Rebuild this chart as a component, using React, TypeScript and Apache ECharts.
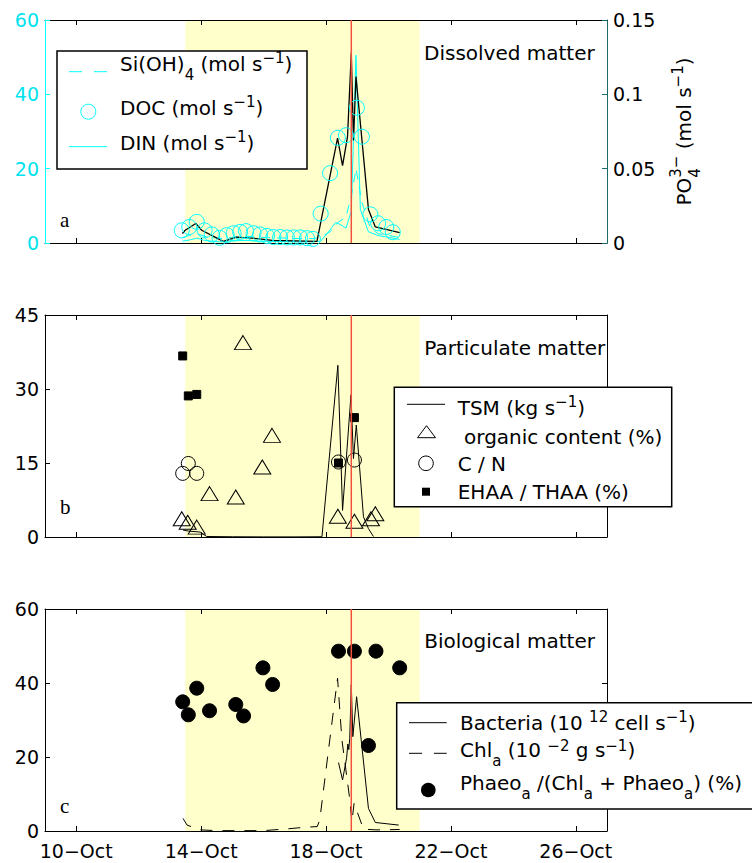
import React, { useEffect, useRef } from "react";
import * as echarts from "echarts";

// ---------- axes ----------
const X_MIN = 9;
const X_MAX = 27;
const X_TICKS = [10, 14, 18, 22, 26];
const MONTH = "Oct";
const BAND = [13.49, 21.0];
const EVENT_DAY = 18.81;

// ---------- panel a : dissolved matter ----------
const DOC_T = [13.38, 13.62, 13.86, 14.11, 14.34, 14.59, 14.82, 15.04, 15.25, 15.44, 15.68, 15.89, 16.11, 16.32, 16.53, 16.75, 16.96, 17.17, 17.39, 17.58, 17.83, 18.13, 18.38, 18.64, 18.99, 19.15, 19.42, 19.67, 19.93, 20.14];
const DOC_V = [3.4, 4.3, 5.7, 3.4, 2.3, 1.4, 2.1, 2.6, 3.0, 3.2, 2.6, 2.3, 1.9, 1.6, 1.6, 1.5, 1.5, 1.5, 1.3, 1.1, 7.9, 18.8, 28.3, 29.0, 36.4, 28.6, 7.7, 5.3, 4.3, 2.9];

const PO4_T = [13.4, 13.49, 13.83, 14.02, 14.71, 15.14, 15.79, 16.27, 17.71, 18.37, 18.53, 18.69, 18.81, 18.88, 18.96, 19.36, 19.58, 20.36];
const PO4_V = [0.0064, 0.0086, 0.0131, 0.0086, 0.0011, 0.004, 0.003, 0.0018, 0.0011, 0.0705, 0.052, 0.0716, 0.128, 0.069, 0.112, 0.0226, 0.0108, 0.007];

const DIN_T = [13.4, 13.62, 13.86, 14.11, 14.59, 15.04, 15.44, 15.89, 16.32, 16.75, 17.17, 17.58, 17.83, 18.13, 18.3, 18.45, 18.64, 18.81, 18.96, 19.1, 19.36, 19.67, 20.36];
const DIN_V = [0.5, 0.8, 1.3, 0.7, 0.3, 0.6, 0.7, 0.5, 0.4, 0.4, 0.3, 0.3, 0.5, 3.5, 5.5, 5.0, 4.0, 8.5, 50.5, 9.0, 3.0, 2.0, 1.0];

const SI_T = [13.4, 13.62, 13.86, 14.11, 14.59, 15.04, 15.44, 15.89, 16.32, 16.75, 17.17, 17.58, 17.83, 18.13, 18.38, 18.64, 18.81, 18.96, 19.15, 19.42, 19.67, 20.36];
const SI_V = [1.5, 2.0, 2.5, 1.8, 1.2, 1.6, 1.8, 1.5, 1.4, 1.3, 1.2, 1.2, 1.5, 3.0, 5.5, 7.0, 12.5, 20.0, 11.0, 4.0, 2.5, 1.5];

// ---------- panel b : particulate matter ----------
const TSM_T = [13.42, 13.6, 13.97, 14.18, 15.0, 16.0, 17.0, 17.87, 18.38, 18.53, 18.8, 18.88, 18.97, 19.2, 19.36, 19.52];
const TSM_V = [1.4, 1.2, 1.0, 0.1, 0.05, 0.02, 0.02, 0.05, 34.8, 5.4, 28.8, 15.9, 22.7, 4.1, 1.7, 0.1];

const ORG_T = [13.38, 13.57, 13.86, 14.27, 15.11, 15.34, 15.96, 16.27, 18.38, 18.91, 19.44, 19.58];
const ORG_V = [3.7, 3.0, 2.0, 8.8, 8.1, 39.4, 14.2, 20.6, 4.2, 3.2, 3.7, 4.7];

const CN_T = [13.41, 13.59, 13.86, 18.4, 18.91];
const CN_V = [12.9, 14.9, 12.9, 15.2, 15.6];

const EH_T = [13.41, 13.59, 13.86, 18.4, 18.91];
const EH_V = [36.7, 28.6, 28.9, 15.0, 24.2];

// ---------- panel c : biological matter ----------
const PH_T = [13.41, 13.59, 13.86, 14.27, 15.11, 15.36, 15.98, 16.29, 18.4, 18.91, 19.36, 19.6, 20.36];
const PH_V = [34.9, 31.4, 38.6, 32.5, 34.2, 31.1, 44.1, 39.6, 48.6, 48.6, 23.1, 48.6, 44.1];

const BAC_T = [18.4, 18.53, 18.66, 18.7, 18.73, 18.76, 18.81, 18.86, 18.98, 19.36, 19.58, 20.33];
const BAC_V = [18.5, 13.8, 19.7, 23.5, 22.0, 25.0, 39.5, 25.5, 36.3, 6.1, 2.3, 1.6];

const CHL_T = [13.42, 13.55, 13.97, 14.5, 15.2, 16.0, 16.8, 17.3, 17.72, 17.8, 18.08, 18.37, 18.51, 18.75, 18.83, 18.9, 19.2, 19.6, 20.36];
const CHL_V = [3.4, 1.6, 0.3, 0.1, 0.1, 0.1, 0.6, 1.0, 1.2, 3.0, 21.9, 41.3, 24.6, 9.3, 2.5, 7.5, 0.5, 0.3, 0.4];

// ---------- styles ----------
const FONT = "DejaVu Sans";
const CYAN = "#00ffff";
const CYAN_LABEL = "#00e3ee";
const TEAL = "#1a6a6a";
const RED = "#f0503c";
const YELLOW = "#ffffcc";
const MAIN = 20;
const SCRIPT = 15;
const SUP_DY = -6;
const SUB_DY = 11;

const zip = (t: number[], v: number[]) => t.map((d, i) => [d, v[i]]);

let mctx: CanvasRenderingContext2D | null = null;
function tw(text: string, size: number): number {
  if (!mctx) mctx = document.createElement("canvas").getContext("2d");
  if (!mctx) return text.length * size * 0.6;
  mctx.font = `${size}px "${FONT}"`;
  return mctx.measureText(text).width;
}

function txt(x: number, y: number, text: string, size: number, extra: any = {}) {
  return {
    type: "text",
    x,
    y,
    z: 100,
    silent: true,
    style: {
      text,
      fontSize: size,
      fontFamily: FONT,
      fill: "#000",
      align: "left",
      verticalAlign: "middle",
      textAlign: "left",
      textVerticalAlign: "middle",
      ...extra,
    },
  };
}

type Tok = [string, string, string?];
function layout(tokens: Tok[], x0: number, y0: number, supDy = SUP_DY) {
  const els: any[] = [];
  let x = x0;
  for (const [k, a, b] of tokens) {
    if (k === "n") {
      els.push(txt(x, y0, a, MAIN));
      x += tw(a, MAIN);
    } else if (k === "sup") {
      els.push(txt(x, y0 + supDy, a, SCRIPT));
      x += tw(a, SCRIPT);
    } else if (k === "sub") {
      els.push(txt(x, y0 + SUB_DY, a, SCRIPT));
      x += tw(a, SCRIPT);
    } else if (k === "stack") {
      els.push(txt(x, y0 + SUB_DY, a, SCRIPT));
      els.push(txt(x, y0 + supDy - 2, b as string, SCRIPT));
      x += Math.max(tw(a, SCRIPT), tw(b as string, SCRIPT));
    }
  }
  return { els, width: x - x0 };
}

const LBL_SI: Tok[] = [["n", "Si(OH)"], ["sub", "4"], ["n", " (mol s"], ["sup", "\u22121"], ["n", ")"]];
const LBL_DOC: Tok[] = [["n", "DOC (mol s"], ["sup", "\u22121"], ["n", ")"]];
const LBL_DIN: Tok[] = [["n", "DIN (mol s"], ["sup", "\u22121"], ["n", ")"]];
const LBL_PO4: Tok[] = [["n", "PO"], ["stack", "4", "3\u2212"], ["n", " (mol s"], ["sup", "\u22121"], ["n", ")"]];
const LBL_TSM: Tok[] = [["n", "TSM (kg s"], ["sup", "\u22121"], ["n", ")"]];
const LBL_ORG: Tok[] = [["n", " organic content (%)"]];
const LBL_CN: Tok[] = [["n", "C / N"]];
const LBL_EH: Tok[] = [["n", "EHAA / THAA (%)"]];
const LBL_BAC: Tok[] = [["n", "Bacteria (10 "], ["sup", "12"], ["n", " cell s"], ["sup", "\u22121"], ["n", ")"]];
const LBL_CHL: Tok[] = [["n", "Chl"], ["sub", "a"], ["n", " (10 "], ["sup", "\u22122"], ["n", " g s"], ["sup", "\u22121"], ["n", ")"]];
const LBL_PHA: Tok[] = [["n", "Phaeo"], ["sub", "a"], ["n", " /(Chl"], ["sub", "a"], ["n", " + Phaeo"], ["sub", "a"], ["n", ") (%)"]];

function xAx(gi: number, pos: string, labels: boolean) {
  return {
    type: "value",
    gridIndex: gi,
    position: pos,
    min: X_MIN,
    max: X_MAX,
    z: 3,
    axisLine: { show: true, onZero: false, lineStyle: { color: "#000", width: 1 } },
    axisTick: { show: true, inside: true, length: 5, customValues: X_TICKS, lineStyle: { color: "#000" } },
    axisLabel: {
      show: labels,
      customValues: X_TICKS,
      formatter: (v: number) => `${v}\u2212${MONTH}`,
      margin: 10,
      fontSize: 19,
      fontFamily: FONT,
      color: "#000",
    },
    splitLine: { show: false },
  };
}

function yAx(gi: number, pos: string, min: number, max: number, interval: number, labels: boolean, labelColor = "#000", lineColor = "#000") {
  return {
    type: "value",
    gridIndex: gi,
    position: pos,
    min,
    max,
    interval,
    z: 3,
    axisLine: { show: true, onZero: false, lineStyle: { color: lineColor, width: 1 } },
    axisTick: { show: true, inside: true, length: 5, lineStyle: { color: lineColor } },
    axisLabel: { show: labels, color: labelColor, fontSize: 19, fontFamily: FONT, margin: 6 },
    splitLine: { show: false },
  };
}

function bandSeries(gi: number) {
  return {
    type: "custom",
    xAxisIndex: 2 * gi,
    yAxisIndex: 2 * gi,
    z: 1,
    silent: true,
    data: [[BAND[0], BAND[1]]],
    renderItem: (params: any, api: any) => {
      const cs = params.coordSys;
      const x0 = api.coord([api.value(0), 0])[0];
      const x1 = api.coord([api.value(1), 0])[0];
      return { type: "rect", shape: { x: x0, y: cs.y, width: x1 - x0, height: cs.height }, style: { fill: YELLOW } };
    },
  };
}

function eventSeries(gi: number) {
  return {
    type: "custom",
    xAxisIndex: 2 * gi,
    yAxisIndex: 2 * gi,
    z: 10,
    silent: true,
    data: [[EVENT_DAY, 0]],
    renderItem: (params: any, api: any) => {
      const cs = params.coordSys;
      const x = api.coord([api.value(0), 0])[0];
      return { type: "line", shape: { x1: x, y1: cs.y, x2: x, y2: cs.y + cs.height }, style: { stroke: RED, lineWidth: 1.5 } };
    },
  };
}

function lineSeries(xi: number, yi: number, data: number[][], color: string, width: number, dash?: number[]) {
  return {
    type: "line",
    xAxisIndex: xi,
    yAxisIndex: yi,
    data,
    z: 4,
    showSymbol: false,
    symbol: "none",
    silent: true,
    lineStyle: { color, width, type: dash ? dash : "solid", opacity: 1 },
  };
}

function scatterSeries(xi: number, yi: number, data: number[][], symbol: string, size: any, fill: string, stroke: string) {
  return {
    type: "scatter",
    xAxisIndex: xi,
    yAxisIndex: yi,
    data,
    z: 5,
    symbol,
    symbolSize: size,
    silent: true,
    itemStyle: { color: fill, borderColor: stroke, borderWidth: 1, opacity: 1 },
  };
}

function buildGraphics() {
  const g: any[] = [];
  const box = (x: number, y: number, w: number, h: number) => ({
    type: "rect",
    z: 99,
    silent: true,
    shape: { x, y, width: w, height: h },
    style: { fill: "#fff", stroke: "#000", lineWidth: 1.5 },
  });
  const seg = (x1: number, x2: number, y: number, color: string, dash?: number[]) => ({
    type: "line",
    z: 100,
    silent: true,
    shape: { x1, y1: y, x2, y2: y },
    style: { stroke: color, lineWidth: 1, lineDash: dash },
  });

  // legend a
  g.push(box(57, 51, 250, 118));
  g.push(seg(69, 107, 71.7, CYAN, [13, 12]));
  g.push({ type: "circle", z: 100, silent: true, shape: { cx: 88.3, cy: 111.7, r: 7.5 }, style: { fill: "none", stroke: CYAN, lineWidth: 1 } });
  g.push(seg(69, 107, 146.7, CYAN));
  g.push(...layout(LBL_SI, 120, 64.3).els);
  g.push(...layout(LBL_DOC, 120, 107.5).els);
  g.push(...layout(LBL_DIN, 120, 142.5).els);

  // right-axis title of panel a (rotated)
  const po = layout(LBL_PO4, 0, 0);
  const po2 = layout(LBL_PO4, -po.width / 2, 0);
  g.push({ type: "group", x: 684, y: 131.5, rotation: Math.PI / 2, children: po2.els });

  // legend b
  g.push(box(394.3, 387.3, 277.4, 119.4));
  g.push(seg(407, 445, 404.3, "#000"));
  g.push({ type: "polygon", z: 100, silent: true, shape: { points: [[417.5, 437.7], [435.5, 437.7], [426.5, 425.7]] }, style: { fill: "none", stroke: "#000", lineWidth: 1 } });
  g.push({ type: "circle", z: 100, silent: true, shape: { cx: 426, cy: 463.3, r: 7.3 }, style: { fill: "none", stroke: "#000", lineWidth: 1 } });
  g.push({ type: "rect", z: 100, silent: true, shape: { x: 422, y: 487.7, width: 8, height: 8 }, style: { fill: "#000" } });
  g.push(...layout(LBL_TSM, 457.7, 408.3).els);
  g.push(...layout(LBL_ORG, 457.7, 436.7).els);
  g.push(...layout(LBL_CN, 457.7, 463.7).els);
  g.push(...layout(LBL_EH, 457.7, 492).els);

  // legend c
  g.push(box(396.7, 702.7, 400, 106.3));
  g.push(seg(409, 446.7, 722.7, "#000"));
  g.push(seg(409, 446.7, 753.3, "#000", [13, 12]));
  g.push({ type: "circle", z: 100, silent: true, shape: { cx: 428.3, cy: 790, r: 7.3 }, style: { fill: "#000" } });
  g.push(...layout(LBL_BAC, 460, 723).els);
  g.push(...layout(LBL_CHL, 460, 750, -4).els);
  g.push(...layout(LBL_PHA, 460, 782.5).els);

  // panel titles
  g.push(txt(424, 52.5, "Dissolved matter", MAIN));
  g.push(txt(424.3, 347.7, "Particulate matter", MAIN));
  g.push(txt(424.3, 640.7, "Biological matter", MAIN));

  // panel letters
  const serif = { fontFamily: "Liberation Serif" };
  g.push(txt(60, 220.4, "a", 21, serif));
  g.push(txt(60, 507, "b", 21, serif));
  g.push(txt(60, 805.7, "c", 21, serif));
  return g;
}

export default function App() {
  const ref = useRef<HTMLDivElement>(null);
  useEffect(() => {
    if (!ref.current) return;
    const chart = echarts.init(ref.current, undefined, { renderer: "svg" });
    const grid = [
      { left: 45, top: 20, width: 562, height: 223 },
      { left: 45, top: 315, width: 562, height: 222 },
      { left: 45, top: 609, width: 562, height: 222 },
    ];
    const option: any = {
      animation: false,
      backgroundColor: "#fff",
      textStyle: { fontFamily: FONT },
      grid,
      xAxis: [
        xAx(0, "bottom", false),
        xAx(0, "top", false),
        xAx(1, "bottom", false),
        xAx(1, "top", false),
        xAx(2, "bottom", true),
        xAx(2, "top", false),
      ],
      yAxis: [
        yAx(0, "left", 0, 60, 20, true, CYAN_LABEL, CYAN),
        yAx(0, "right", 0, 0.15, 0.05, true, "#000", TEAL),
        yAx(1, "left", 0, 45, 15, true),
        yAx(1, "right", 0, 45, 15, false),
        yAx(2, "left", 0, 60, 20, true),
        yAx(2, "right", 0, 60, 20, false),
      ],
      series: [
        bandSeries(0),
        bandSeries(1),
        bandSeries(2),
        // panel a
        lineSeries(0, 0, zip(SI_T, SI_V), CYAN, 1, [9, 7]),
        lineSeries(0, 0, zip(DIN_T, DIN_V), CYAN, 1),
        scatterSeries(0, 0, zip(DOC_T, DOC_V), "circle", 15, "rgba(0,0,0,0)", CYAN),
        lineSeries(0, 1, zip(PO4_T, PO4_V), "#000", 1.3),
        // panel b
        lineSeries(2, 2, zip(TSM_T, TSM_V), "#000", 1),
        scatterSeries(2, 2, zip(ORG_T, ORG_V), "triangle", [17, 14], "rgba(0,0,0,0)", "#000"),
        scatterSeries(2, 2, zip(CN_T, CN_V), "circle", 14, "rgba(0,0,0,0)", "#000"),
        scatterSeries(2, 2, zip(EH_T, EH_V), "rect", 8, "#000", "#000"),
        // panel c
        lineSeries(4, 4, zip(BAC_T, BAC_V), "#000", 1),
        lineSeries(4, 4, zip(CHL_T, CHL_V), "#000", 1, [12, 10]),
        scatterSeries(4, 4, zip(PH_T, PH_V), "circle", 14, "#000", "#000"),
        eventSeries(0),
        eventSeries(1),
        eventSeries(2),
      ],
      graphic: buildGraphics(),
    };
    chart.setOption(option);
    return () => chart.dispose();
  }, []);
  return <div ref={ref} style={{ position: "fixed", left: 0, top: 0, width: 752, height: 863, background: "#fff" }} />;
}
